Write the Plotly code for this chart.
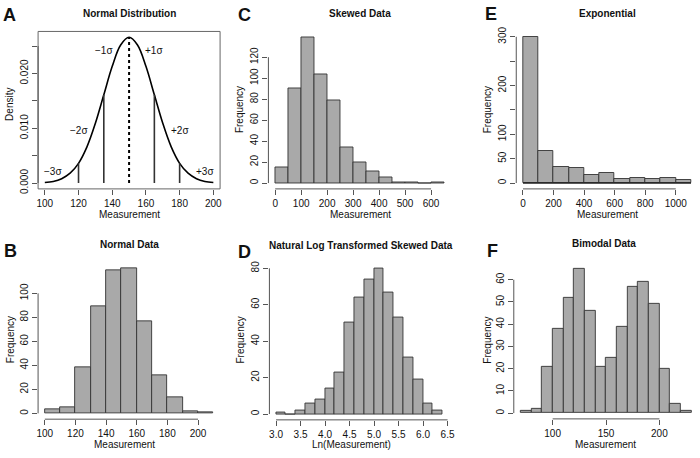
import plotly.graph_objects as go

W, H = 700, 458

# ---------------- data ----------------
# Panel A: normal density curve (mean 150, sd 15)
curve_x = [100, 105, 110, 115, 120, 125, 130, 135, 140, 145, 150,
           155, 160, 165, 170, 175, 180, 185, 190, 195, 200]
curve_y = [0.0001, 0.0003, 0.0008, 0.0018, 0.0036, 0.0066, 0.0109, 0.0161, 0.0213, 0.0252, 0.0266,
           0.0252, 0.0213, 0.0161, 0.0109, 0.0066, 0.0036, 0.0018, 0.0008, 0.0003, 0.0001]
sigma_x = [120, 135, 165, 180]
mean_x = 150
sigma_labels = ["\u22123\u03c3", "\u22122\u03c3", "\u22121\u03c3", "+1\u03c3", "+2\u03c3", "+3\u03c3"]
sigma_label_x = [105, 120, 135, 165, 180, 195]
sigma_label_y = [0.0022, 0.0096, 0.0241, 0.0241, 0.0096, 0.0022]

# Panel B: normal data
normal_edges = [100, 110, 120, 130, 140, 150, 160, 170, 180, 190, 200, 210]
normal_counts = [3, 5, 38, 89, 119, 121, 77, 32, 13, 2, 1]

# Panel C: skewed data
skew_edges = [0, 50, 100, 150, 200, 250, 300, 350, 400, 450, 500, 550, 600, 650]
skew_counts = [15, 90, 139, 104, 79, 34, 20, 11, 5, 1, 1, 0, 1]

# Panel D: log transformed skewed data
log_edges = [3.0, 3.2, 3.4, 3.6, 3.8, 4.0, 4.2, 4.4, 4.6, 4.8, 5.0, 5.2, 5.4, 5.6, 5.8, 6.0, 6.2, 6.4]
log_counts = [1, 0, 2, 6, 8, 14, 23, 50, 64, 74, 80, 67, 53, 31, 19, 6, 2]

# Panel E: exponential
exp_edges = [0, 100, 200, 300, 400, 500, 600, 700, 800, 900, 1000, 1100]
exp_counts = [300, 65, 32, 30, 17, 21, 9, 10, 9, 11, 7]

# Panel F: bimodal
bi_edges = [70, 80, 90, 100, 110, 120, 130, 140, 150, 160, 170, 180, 190, 200, 210, 220, 230]
bi_counts = [1, 2, 21, 38, 52, 65, 46, 21, 25, 39, 57, 59, 49, 20, 4, 1]

# tick definitions
A_xticks = [100, 120, 140, 160, 180, 200]
A_yticks = [0.000, 0.005, 0.010, 0.015, 0.020, 0.025]
A_yticktext = ["0.000", "", "0.010", "", "0.020", ""]
B_xticks = [100, 120, 140, 160, 180, 200]
B_yticks = [0, 20, 40, 60, 80, 100]
C_xticks = [0, 100, 200, 300, 400, 500, 600]
C_yticks = [0, 20, 40, 60, 80, 100, 120]
D_xticks = [3.0, 3.5, 4.0, 4.5, 5.0, 5.5, 6.0, 6.5]
D_xticktext = ["3.0", "3.5", "4.0", "4.5", "5.0", "5.5", "6.0", "6.5"]
D_yticks = [0, 20, 40, 60, 80]
E_xticks = [0, 200, 400, 600, 800, 1000]
E_yticks = [0, 50, 100, 150, 200, 250, 300]
E_yticktext = ["0", "50", "100", "", "200", "", "300"]
F_xticks = [100, 150, 200]
F_yticks = [0, 10, 20, 30, 40, 50, 60]

FONT = "Liberation Sans, Arial, Helvetica, sans-serif"
BAR_FILL = "#A9A9A9"
BAR_EDGE = "#333333"
AXIS_COL = "#555555"


def ext(lo, hi):
    d = (hi - lo) * 0.04
    return [lo - d, hi + d]


def clip_range(r, px0, px1, clip_px):
    if px1 <= clip_px:
        return r, px1
    frac = (clip_px - px0) / (px1 - px0)
    return [r[0], r[0] + frac * (r[1] - r[0])], clip_px


fig = go.Figure()
shapes = []
annotations = []

panels = [
    dict(n=1, xpx=(36.5, 220.6), ypx=(28, 188.6), xlo=100, xhi=200, ymax=max(curve_y),
         xt=A_xticks, xtt=None, yt=A_yticks, ytt=A_yticktext, box=True),
    dict(n=2, xpx=(36.5, 220.6), ypx=(263.5, 423.5), xlo=normal_edges[0], xhi=normal_edges[-1],
         ymax=max(normal_counts), xt=B_xticks, xtt=None, yt=B_yticks, ytt=None, box=False),
    dict(n=3, xpx=(269.5, 454), ypx=(28, 188.6), xlo=skew_edges[0], xhi=skew_edges[-1],
         ymax=max(skew_counts), xt=C_xticks, xtt=None, yt=C_yticks, ytt=None, box=False),
    dict(n=4, xpx=(270.5, 452.5), ypx=(263.7, 424.2), xlo=log_edges[0], xhi=log_edges[-1],
         ymax=max(log_counts), xt=D_xticks, xtt=D_xticktext, yt=D_yticks, ytt=None, box=False),
    dict(n=5, xpx=(520.2, 703.8), ypx=(27.5, 188.6), xlo=exp_edges[0], xhi=exp_edges[-1],
         ymax=max(exp_counts), xt=E_xticks, xtt=None, yt=E_yticks, ytt=E_yticktext, box=False),
    dict(n=6, xpx=(517.7, 704.3), ypx=(264, 423.2), xlo=bi_edges[0], xhi=bi_edges[-1],
         ymax=max(bi_counts), xt=F_xticks, xtt=None, yt=F_yticks, ytt=None, box=False),
]

layout_axes = {}
for p in panels:
    n = p["n"]
    xr = ext(p["xlo"], p["xhi"])
    xr, xpx1 = clip_range(xr, p["xpx"][0], p["xpx"][1], W)
    yr = ext(0, p["ymax"])
    xs = "" if n == 1 else str(n)
    layout_axes["xaxis" + xs] = dict(
        domain=[p["xpx"][0] / W, xpx1 / W], range=xr, anchor="y" + xs,
        tickmode="array", tickvals=p["xt"],
        ticktext=p["xtt"] if p["xtt"] else [str(v) for v in p["xt"]],
        ticks="outside", ticklen=5, tickwidth=1, tickcolor=AXIS_COL,
        showline=False, showgrid=False, zeroline=False,
        tickfont=dict(family=FONT, size=10, color="#111"), fixedrange=True)
    layout_axes["yaxis" + xs] = dict(
        domain=[1 - p["ypx"][1] / H, 1 - p["ypx"][0] / H], range=yr, anchor="x" + xs,
        tickmode="array", tickvals=p["yt"],
        ticktext=p["ytt"] if p["ytt"] else [str(v) for v in p["yt"]],
        ticks="outside", ticklen=5, tickwidth=1, tickcolor=AXIS_COL, tickangle=-90,
        showline=False, showgrid=False, zeroline=False,
        tickfont=dict(family=FONT, size=10, color="#111"), fixedrange=True)
    xref = "x" + xs
    yref = "y" + xs
    if p["box"]:
        shapes.append(dict(type="rect", xref=xref + " domain", yref=yref + " domain",
                           x0=0, x1=1, y0=0, y1=1, line=dict(color="#666", width=1)))
    else:
        shapes.append(dict(type="line", xref=xref, yref=yref + " domain",
                           x0=p["xt"][0], x1=p["xt"][-1], y0=0, y1=0,
                           line=dict(color=AXIS_COL, width=1)))
    shapes.append(dict(type="line", xref=xref + " domain", yref=yref,
                       x0=0, x1=0, y0=p["yt"][0], y1=p["yt"][-1],
                       line=dict(color=AXIS_COL, width=1)))

# ---- Panel A traces ----
fig.add_trace(go.Scatter(x=curve_x, y=curve_y, mode="lines", line=dict(color="black", width=1.6, shape="spline"),
                         xaxis="x", yaxis="y", showlegend=False, hoverinfo="skip"))
for sx in sigma_x:
    sy = curve_y[curve_x.index(sx)]
    fig.add_trace(go.Scatter(x=[sx, sx], y=[0, sy], mode="lines", line=dict(color="#333", width=1.6),
                             xaxis="x", yaxis="y", showlegend=False, hoverinfo="skip"))
my = curve_y[curve_x.index(mean_x)]
fig.add_trace(go.Scatter(x=[mean_x, mean_x], y=[0, my], mode="lines", line=dict(color="black", width=2, dash="dot"),
                         xaxis="x", yaxis="y", showlegend=False, hoverinfo="skip"))
for t, lx, ly in zip(sigma_labels, sigma_label_x, sigma_label_y):
    annotations.append(dict(text=t, x=lx, y=ly, xref="x", yref="y", showarrow=False,
                            font=dict(family=FONT, size=10, color="#111")))


def add_hist(edges, counts, xs):
    widths = [edges[i + 1] - edges[i] for i in range(len(counts))]
    fig.add_trace(go.Bar(x=edges[:-1], y=counts, width=widths, offset=0,
                         marker=dict(color=BAR_FILL, line=dict(color=BAR_EDGE, width=0.9)),
                         xaxis="x" + xs, yaxis="y" + xs, showlegend=False, hoverinfo="skip"))


add_hist(normal_edges, normal_counts, "2")
add_hist(skew_edges, skew_counts, "3")
add_hist(log_edges, log_counts, "4")
add_hist(exp_edges, exp_counts, "5")
add_hist(bi_edges, bi_counts, "6")
# baseline in E
shapes.append(dict(type="line", xref="x5", yref="y5", x0=exp_edges[0], x1=exp_edges[-1], y0=0, y1=0,
                   line=dict(color="#222", width=1.5)))


def ann(text, px, py, size=10, bold=False, angle=0):
    annotations.append(dict(text=("<b>%s</b>" % text) if bold else text,
                            x=px / W, y=1 - py / H, xref="paper", yref="paper",
                            showarrow=False, textangle=angle, xanchor="center", yanchor="middle",
                            font=dict(family=FONT, size=size, color="#111")))


# titles
ann("Normal Distribution", 128.5, 10, 10, True)
ann("Skewed Data", 362, 10, 10, True)
ann("Exponential", 612, 10, 10, True)
ann("Normal Data", 128.5, 245, 10, True)
ann("Natural Log Transformed Skewed Data", 363, 246, 10, True)
ann("Bimodal Data", 609, 244, 10, True)
# x labels
ann("Measurement", 128.5, 215)
ann("Measurement", 362.5, 215)
ann("Measurement", 612.3, 215)
ann("Measurement", 124, 449.7)
ann("Ln(Measurement)", 354, 449.7)
ann("Measurement", 610, 449.7)
# y labels
ann("Density", 8, 102, angle=-90)
ann("Frequency", 241, 108, angle=-90)
ann("Frequency", 491, 108, angle=-90)
ann("Frequency", 8, 342, angle=-90)
ann("Frequency", 241, 343, angle=-90)
ann("Frequency", 491, 343, angle=-90)
# panel letters
ann("A", 8, 11.5, 18, True)
ann("C", 245, 11.5, 18, True)
ann("E", 494.5, 10, 18, True)
ann("B", 9, 251.5, 18, True)
ann("D", 245.5, 252.5, 18, True)
ann("F", 496, 251.5, 18, True)

fig.update_layout(width=W, height=H, margin=dict(l=0, r=0, t=0, b=0),
                  paper_bgcolor="white", plot_bgcolor="white",
                  shapes=shapes, annotations=annotations, bargap=0,
                  font=dict(family=FONT), **layout_axes)

fig.write_html("out.html", config={"displayModeBar": False},
               post_script="document.body.style.margin='0';document.body.style.overflow='hidden';")
